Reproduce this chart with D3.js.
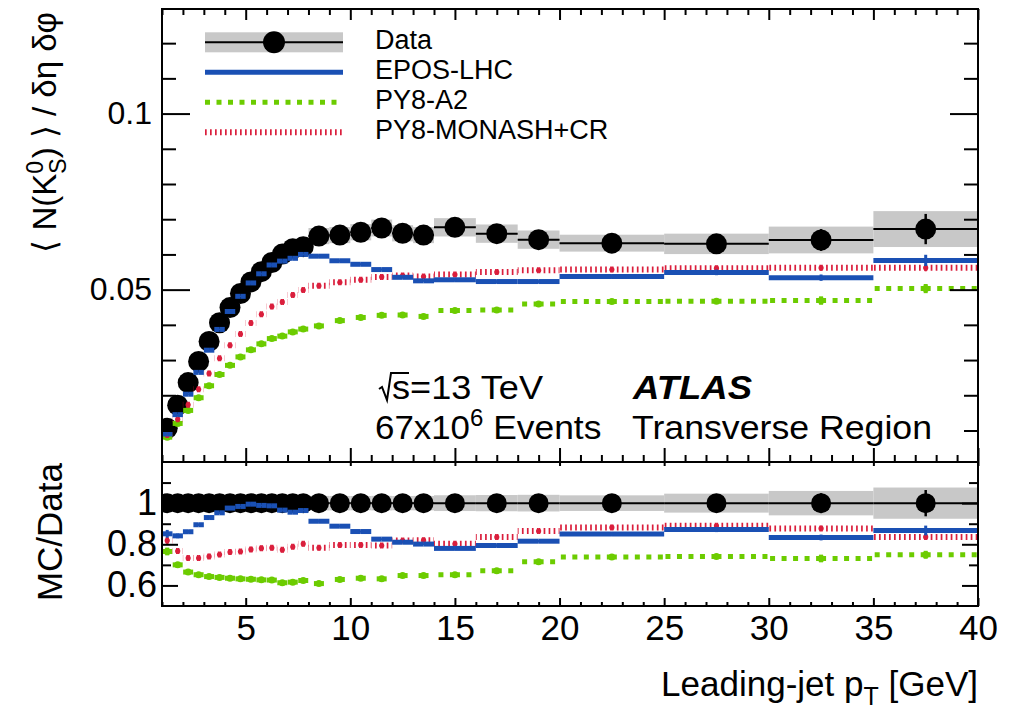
<!DOCTYPE html>
<html><head><meta charset="utf-8">
<script src="https://cdn.jsdelivr.net/npm/d3@7"></script>
<style>
body{margin:0;background:#fff;}
svg{display:block;font-family:"Liberation Sans",Arial,Helvetica,sans-serif;}
</style></head><body>
<svg id="c" width="1009" height="714"></svg>
<script>
// ---------------- data ----------------
const binEdges = [1,1.5,2,2.5,3,3.5,4,4.5,5,5.5,6,6.5,7,7.5,8,9,10,11,12,13,14,16,18,20,25,30,35,40];
const dataVal  = [0.0106,0.0172,0.0236,0.0296,0.0353,0.0406,0.0449,0.0489,0.0522,0.0551,0.0577,0.0601,0.0616,0.0622,0.0652,0.0655,0.0663,0.0675,0.0660,0.0655,0.0677,0.0659,0.0642,0.0632,0.0630,0.0641,0.0672];
const dataStat = [0.0002,0.0002,0.0002,0.0002,0.0002,0.0002,0.0002,0.0002,0.0002,0.0002,0.0002,0.0003,0.0003,0.0003,0.0003,0.0003,0.0004,0.0004,0.0005,0.0005,0.0005,0.0007,0.0009,0.0012,0.0018,0.0031,0.0043];
const dataSyst = [0.0003,0.0005,0.0007,0.0009,0.0011,0.0012,0.0013,0.0015,0.0016,0.0017,0.0017,0.0018,0.0018,0.0019,0.0023,0.0023,0.0023,0.0024,0.0023,0.0023,0.0026,0.0026,0.0026,0.0024,0.0029,0.0038,0.0051];

const eposVal = [0.0090,0.0145,0.0203,0.0265,0.0328,0.0387,0.0438,0.0481,0.0519,0.0545,0.0570,0.0581,0.0589,0.0600,0.0595,0.0582,0.0572,0.0557,0.0535,0.0525,0.0528,0.0523,0.0523,0.0537,0.0549,0.0534,0.0583];
const eposErr = [0.0002,0.0002,0.0002,0.0002,0.0002,0.0002,0.0002,0.0002,0.0002,0.0002,0.0002,0.0002,0.0002,0.0002,0.0003,0.0003,0.0003,0.0003,0.0003,0.0003,0.0004,0.0004,0.0004,0.0006,0.0008,0.0009,0.0016];
const a2Val   = [0.0081,0.0120,0.0157,0.0193,0.0227,0.0259,0.0285,0.0309,0.0329,0.0346,0.0361,0.0368,0.0380,0.0388,0.0397,0.0412,0.0421,0.0427,0.0428,0.0424,0.0441,0.0442,0.0459,0.0466,0.0467,0.0469,0.0503];
const a2Err   = [0.0002,0.0002,0.0002,0.0002,0.0002,0.0002,0.0002,0.0002,0.0002,0.0002,0.0002,0.0002,0.0002,0.0002,0.0003,0.0003,0.0003,0.0003,0.0003,0.0003,0.0004,0.0004,0.0004,0.0006,0.0007,0.0012,0.0013];
const monVal  = [0.0087,0.0132,0.0173,0.0217,0.0262,0.0305,0.0342,0.0374,0.0405,0.0430,0.0452,0.0465,0.0485,0.0499,0.0511,0.0521,0.0528,0.0536,0.0540,0.0537,0.0543,0.0550,0.0555,0.0557,0.0561,0.0562,0.0562];
const monErr  = [0.0002,0.0002,0.0002,0.0002,0.0002,0.0002,0.0002,0.0002,0.0002,0.0002,0.0002,0.0002,0.0002,0.0002,0.0003,0.0003,0.0003,0.0003,0.0003,0.0003,0.0004,0.0004,0.0004,0.0005,0.0006,0.0008,0.0010];

const eposRatio = [0.851,0.841,0.861,0.895,0.930,0.953,0.976,0.984,0.995,0.989,0.987,0.966,0.956,0.964,0.912,0.888,0.862,0.825,0.810,0.801,0.780,0.794,0.815,0.850,0.872,0.833,0.867];
const a2Ratio   = [0.765,0.700,0.665,0.652,0.643,0.639,0.635,0.632,0.630,0.627,0.626,0.613,0.616,0.624,0.609,0.629,0.635,0.632,0.648,0.648,0.652,0.671,0.715,0.738,0.741,0.731,0.749];
const monRatio  = [0.818,0.767,0.733,0.733,0.741,0.750,0.762,0.765,0.775,0.781,0.783,0.773,0.788,0.802,0.783,0.796,0.797,0.794,0.818,0.820,0.802,0.835,0.864,0.882,0.890,0.877,0.836];

const xTickVals = [5,10,15,20,25,30,35,40];
const xTickLabels = ["5","10","15","20","25","30","35","40"];
const mainYTickVals = [0.05,0.1];
const mainYTickLabels = ["0.05","0.1"];
const mainYMinorVals = [0.01,0.02,0.03,0.04,0.06,0.07,0.08,0.09,0.11,0.12];
const ratioYTickVals = [0.6,0.8,1.0];
const ratioYTickLabels = ["0.6","0.8","1"];
const ratioYMinorVals = [0.7,0.9,1.1];
const legendLabels = ["Data","EPOS-LHC","PY8-A2","PY8-MONASH+CR"];

// ---------------- layout ----------------
const FONT = '"Liberation Sans", Arial, Helvetica, sans-serif';
const L = 162, R = 978, MT = 9, MB = 462, RT = 462, RB = 606;
const x  = d3.scaleLinear().domain([1,40]).range([L,R]);
const yM = d3.scaleLinear().domain([0.00105,0.1297]).range([MB,MT]);
const yR = d3.scaleLinear().domain([0.5,1.2]).range([RB,RT]);

const svg = d3.select("#c");
const bins = dataVal.map((v,i)=>({lo:binEdges[i],hi:binEdges[i+1],c:(binEdges[i]+binEdges[i+1])/2,i}));
const xMinorVals = d3.range(1,41).filter(v=>v%5!==0);

const C_BLUE = "#1a50b4", C_GREEN = "#6ccc00", C_RED = "#da1e3c", C_BAND = "#c8c8c8";

svg.append("clipPath").attr("id","clipM").append("rect").attr("x",L).attr("y",MT).attr("width",R-L).attr("height",MB-MT);
svg.append("clipPath").attr("id","clipR").append("rect").attr("x",L).attr("y",RT).attr("width",R-L).attr("height",RB-RT);

function drawPanel(y, clip, vals, band, stat, mcs, mr) {
  const g = svg.append("g").attr("clip-path",`url(#${clip})`);
  g.selectAll("rect.band").data(bins).join("rect").attr("class","band")
    .attr("x",b=>x(b.lo)).attr("width",b=>x(b.hi)-x(b.lo))
    .attr("y",b=>y(vals[b.i]+band[b.i])).attr("height",b=>y(vals[b.i]-band[b.i])-y(vals[b.i]+band[b.i]))
    .attr("fill",C_BAND);
  g.selectAll("line.hbar").data(bins).join("line").attr("class","hbar")
    .attr("x1",b=>x(b.lo)).attr("x2",b=>x(b.hi)).attr("y1",b=>y(vals[b.i])).attr("y2",b=>y(vals[b.i]))
    .attr("stroke","#000").attr("stroke-width",2);
  g.selectAll("line.vbar").data(bins).join("line").attr("class","vbar")
    .attr("x1",b=>x(b.c)).attr("x2",b=>x(b.c)).attr("y1",b=>y(vals[b.i]-stat[b.i])).attr("y2",b=>y(vals[b.i]+stat[b.i]))
    .attr("stroke","#000").attr("stroke-width",2.5);
  g.selectAll("circle.dm").data(bins).join("circle").attr("class","dm")
    .attr("cx",b=>x(b.c)).attr("cy",b=>y(vals[b.i])).attr("r",mr).attr("fill","#000");
  mcs.forEach(m=>{
    const mg = g.append("g");
    bins.forEach(b=>{
      const yy = y(m.vals[b.i]);
      [b.lo,b.hi].forEach(edge=>{
        mg.append("line").attr("x1",x(b.c)).attr("x2",x(edge)).attr("y1",yy).attr("y2",yy)
          .attr("stroke",m.color).attr("stroke-width",m.width)
          .attr("stroke-dasharray",m.dash||null);
      });
      const e = m.errs[b.i];
      mg.append("line").attr("x1",x(b.c)).attr("x2",x(b.c))
        .attr("y1",y(m.vals[b.i]-e)).attr("y2",y(m.vals[b.i]+e))
        .attr("stroke",m.color).attr("stroke-width",m.ebw);
      if (m.dot) mg.append("circle").attr("cx",x(b.c)).attr("cy",yy).attr("r",m.dot).attr("fill",m.color);
    });
  });
}

const styleEpos = {color:C_BLUE,width:5,dash:null,ebw:3,dot:0};
const styleA2   = {color:C_GREEN,width:5,dash:"5 6.5",ebw:4,dot:3.5};
const styleMon  = {color:C_RED,width:6,dash:"1.7 3.3",ebw:2,dot:2.6};

drawPanel(yM,"clipM",dataVal,dataSyst,dataStat,[
  Object.assign({vals:a2Val,errs:a2Err},styleA2),
  Object.assign({vals:monVal,errs:monErr},styleMon),
  Object.assign({vals:eposVal,errs:eposErr},styleEpos)
],10.5);

const ones = dataVal.map(()=>1);
drawPanel(yR,"clipR",ones,dataSyst.map((s,i)=>s/dataVal[i]),dataStat.map((s,i)=>s/dataVal[i]),[
  Object.assign({vals:a2Ratio,errs:a2Err.map((e,i)=>e/dataVal[i])},styleA2),
  Object.assign({vals:monRatio,errs:monErr.map((e,i)=>e/dataVal[i])},styleMon),
  Object.assign({vals:eposRatio,errs:eposErr.map((e,i)=>e/dataVal[i])},styleEpos)
],10);

// ---------------- axes ----------------
function axisG(tx,ty,axis){
  const g = svg.append("g").attr("transform",`translate(${tx},${ty})`).call(axis);
  g.select(".domain").remove();
  g.selectAll("line").attr("stroke","#000").attr("stroke-width",2);
  g.attr("font-family",FONT);
  return g;
}
// main panel
axisG(L,0,d3.axisLeft(yM).tickValues(mainYMinorVals).tickSize(-14).tickFormat(""));
axisG(L,0,d3.axisLeft(yM).tickValues(mainYTickVals).tickSize(-28).tickPadding(10)
  .tickFormat((d,i)=>mainYTickLabels[i])).attr("font-size",32).selectAll("text").attr("fill","#000");
axisG(R,0,d3.axisRight(yM).tickValues(mainYMinorVals).tickSize(-14).tickFormat(""));
axisG(R,0,d3.axisRight(yM).tickValues(mainYTickVals).tickSize(-28).tickFormat(""));
axisG(0,MB,d3.axisBottom(x).tickValues(xMinorVals).tickSize(-7).tickFormat(""));
axisG(0,MB,d3.axisBottom(x).tickValues(xTickVals).tickSize(-14).tickFormat(""));
axisG(0,MT,d3.axisTop(x).tickValues(xMinorVals).tickSize(-6).tickFormat(""));
axisG(0,MT,d3.axisTop(x).tickValues(xTickVals).tickSize(-11).tickFormat(""));
// ratio panel
axisG(L,0,d3.axisLeft(yR).tickValues(ratioYMinorVals).tickSize(-9).tickFormat(""));
axisG(L,0,d3.axisLeft(yR).tickValues(ratioYTickVals).tickSize(-16).tickPadding(5)
  .tickFormat((d,i)=>ratioYTickLabels[i])).attr("font-size",36).selectAll("text").attr("fill","#000");
axisG(R,0,d3.axisRight(yR).tickValues(ratioYMinorVals).tickSize(-9).tickFormat(""));
axisG(R,0,d3.axisRight(yR).tickValues(ratioYTickVals).tickSize(-16).tickFormat(""));
axisG(0,RB,d3.axisBottom(x).tickValues(xMinorVals).tickSize(-4).tickFormat(""));
axisG(0,RB,d3.axisBottom(x).tickValues(xTickVals).tickSize(-8).tickPadding(9)
  .tickFormat((d,i)=>xTickLabels[i])).attr("font-size",35).selectAll("text").attr("fill","#000");
axisG(0,RT,d3.axisTop(x).tickValues(xTickVals).tickSize(-4).tickFormat(""));

// frames
svg.append("rect").attr("x",L).attr("y",MT).attr("width",R-L).attr("height",MB-MT).attr("fill","none").attr("stroke","#000").attr("stroke-width",2);
svg.append("rect").attr("x",L).attr("y",RT).attr("width",R-L).attr("height",RB-RT).attr("fill","none").attr("stroke","#000").attr("stroke-width",2);

// ---------------- legend ----------------
const lg = svg.append("g");
const lx0 = 205, lx1 = 343, ly = [42.3,72.3,102.3,132.3];
lg.append("rect").attr("x",lx0).attr("y",ly[0]-10).attr("width",lx1-lx0).attr("height",20).attr("fill",C_BAND);
lg.append("line").attr("x1",lx0).attr("x2",lx1).attr("y1",ly[0]).attr("y2",ly[0]).attr("stroke","#000").attr("stroke-width",2);
lg.append("circle").attr("cx",(lx0+lx1)/2).attr("cy",ly[0]).attr("r",11).attr("fill","#000");
[styleEpos,styleA2,styleMon].forEach((s,k)=>{
  lg.append("line").attr("x1",lx0).attr("x2",lx1).attr("y1",ly[k+1]).attr("y2",ly[k+1])
    .attr("stroke",s.color).attr("stroke-width",s.width).attr("stroke-dasharray",s.dash||null);
});
legendLabels.forEach((t,k)=>{
  lg.append("text").attr("x",375).attr("y",ly[k]+6.6).attr("font-size",27).attr("font-family",FONT).text(t);
});

// ---------------- annotations ----------------
const AF = 34;
const sx = 392;
svg.append("path").attr("d",`M${sx-13},${389} L${sx-10},${387} L${sx-5},${400} L${sx-1},${373} L${sx+17},${373}`)
  .attr("fill","none").attr("stroke","#000").attr("stroke-width",2).attr("stroke-linejoin","miter");
svg.append("text").attr("x",sx).attr("y",399).attr("font-size",AF).attr("font-family",FONT)
  .attr("textLength",151).attr("lengthAdjust","spacingAndGlyphs").text("s=13 TeV");
const ev = svg.append("text").attr("x",375).attr("y",439).attr("font-size",AF).attr("font-family",FONT);
ev.append("tspan").attr("textLength",95).attr("lengthAdjust","spacingAndGlyphs").text("67x10");
ev.append("tspan").attr("font-size",24).attr("dy",-13).text("6");
ev.append("tspan").attr("dy",13).attr("textLength",118).attr("lengthAdjust","spacingAndGlyphs").text(" Events");
svg.append("text").attr("x",633).attr("y",399).attr("font-size",AF).attr("font-family",FONT)
  .attr("font-weight","bold").attr("font-style","italic")
  .attr("textLength",119).attr("lengthAdjust","spacingAndGlyphs").text("ATLAS");
svg.append("text").attr("x",632).attr("y",439).attr("font-size",AF).attr("font-family",FONT)
  .attr("textLength",300).attr("lengthAdjust","spacingAndGlyphs").text("Transverse Region");

// ---------------- axis titles ----------------
const yt = svg.append("text").attr("transform","translate(56,12) rotate(-90)").attr("text-anchor","end")
  .attr("font-size",33).attr("font-family",FONT);
yt.append("tspan").text("\u27E8 N(K");
yt.append("tspan").attr("font-size",23).attr("dy",-13).text("0");
yt.append("tspan").attr("font-size",23).attr("dx",-12.8).attr("dy",23).text("S");
yt.append("tspan").attr("dy",-10).text(") \u27E9 / \u03B4\u03B7 \u03B4\u03C6");

svg.append("text").attr("transform","translate(62,463) rotate(-90)").attr("text-anchor","end")
  .attr("font-size",35).attr("font-family",FONT).text("MC/Data");

const xt = svg.append("text").attr("x",978).attr("y",696).attr("text-anchor","end").attr("font-size",35).attr("font-family",FONT);
xt.append("tspan").text("Leading-jet p");
xt.append("tspan").attr("font-size",25).attr("dy",9).text("T");
xt.append("tspan").attr("dy",-9).text(" [GeV]");
</script>
</body></html>
